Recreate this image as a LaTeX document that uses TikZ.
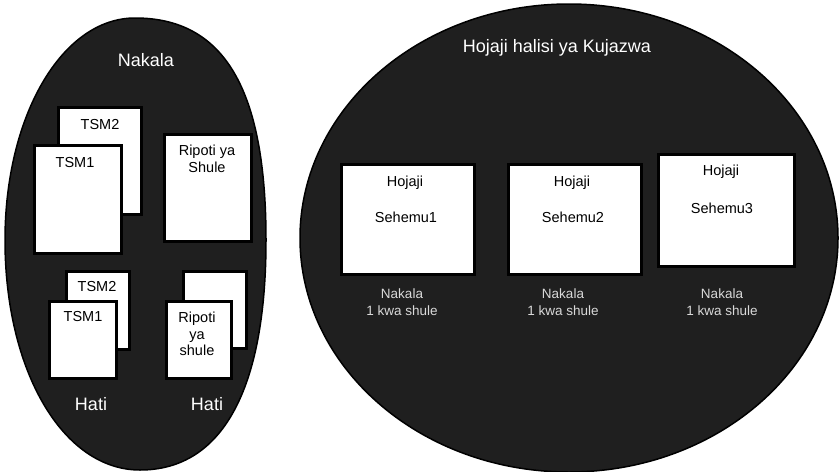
\documentclass[tikz,border=0pt]{standalone}
\usepackage{fontspec}
\setmainfont{Liberation Sans}
\begin{document}
\begin{tikzpicture}[x=1pt,y=-1pt,
  group/.style={fill=black!88,draw=black,line width=1.5pt},
  sheet/.style={draw=black,fill=white,line width=3pt,anchor=north west,inner sep=0pt},
  boxtext/.style={font=\fontsize{14.5}{16.5}\selectfont,text=black,inner sep=0pt,align=center},
  grouplabel/.style={font=\fontsize{18}{20}\selectfont,text=white,inner sep=0pt,align=center},
  copylabel/.style={font=\fontsize{13.5}{17}\selectfont,text=white!85!black,inner sep=0pt,align=center}]
\useasboundingbox (0,0) rectangle (840,471);
\fill[white] (0,0) rectangle (840,471);

% the two groups: an egg-like oval on the left, an ellipse on the right
\draw[group] (266,240)
  .. controls (266,89) and (224,18) .. (135,18)
  .. controls (62,18) and (5,116) .. (5,240)
  .. controls (5,371) and (63,470) .. (140,470)
  .. controls (222,470) and (266,390) .. cycle;
\draw[group] (569,238) ellipse [x radius=269, y radius=234];

% --- left group: copies and documents
\node[grouplabel] (nakala) at (146,60) {Nakala};

\node[sheet,minimum width=83pt,minimum height=107pt] (tsmA2) at (57,106) {};
\node[sheet,minimum width=87pt,minimum height=108pt] (tsmA1) at (33,144) {};
\node[sheet,minimum width=87pt,minimum height=107pt] (ripA) at (163,133) {};
\node[boxtext] (tsmA2t) at (100,125) {TSM2};
\node[boxtext] (tsmA1t) at (75,163) {TSM1};
\node[boxtext] (ripAt) at (207,159) {Ripoti ya\\Shule};

\node[sheet,minimum width=63pt,minimum height=78pt] (tsmB2) at (65,270) {};
\node[sheet,minimum width=67pt,minimum height=77pt] (tsmB1) at (48,300) {};
\node[sheet,minimum width=63pt,minimum height=77pt] (ripB2) at (182,270) {};
\node[sheet,minimum width=65pt,minimum height=77pt] (ripB1) at (165,300) {};
\node[boxtext] (tsmB2t) at (97,287) {TSM2};
\node[boxtext] (tsmB1t) at (83,317) {TSM1};
\node[boxtext] (ripB1t) at (197,334) {Ripoti\\ya\\shule};

\node[grouplabel] (hatiA) at (91,404) {Hati};
\node[grouplabel] (hatiB) at (207,404) {Hati};

% --- right group: filled questionnaires
\node[grouplabel] (title) at (557,48) {Hojaji halisi ya Kujazwa};

\node[sheet,minimum width=133pt,minimum height=110pt] (s1) at (340,163) {};
\node[sheet,minimum width=133pt,minimum height=110pt] (s2) at (507,163) {};
\node[sheet,minimum width=136pt,minimum height=112pt] (s3) at (657,153) {};
\node[boxtext] (s1a) at (405,183) {Hojaji};
\node[boxtext] (s1b) at (406,217) {Sehemu1};
\node[boxtext] (s2a) at (572,183) {Hojaji};
\node[boxtext] (s2b) at (573,217) {Sehemu2};
\node[boxtext] (s3a) at (721,172) {Hojaji};
\node[boxtext] (s3b) at (722,208) {Sehemu3};

\node[copylabel] (c1) at (402,302) {Nakala\\1 kwa shule};
\node[copylabel] (c2) at (563,302) {Nakala\\1 kwa shule};
\node[copylabel] (c3) at (722,302) {Nakala\\1 kwa shule};
\end{tikzpicture}
\end{document}
